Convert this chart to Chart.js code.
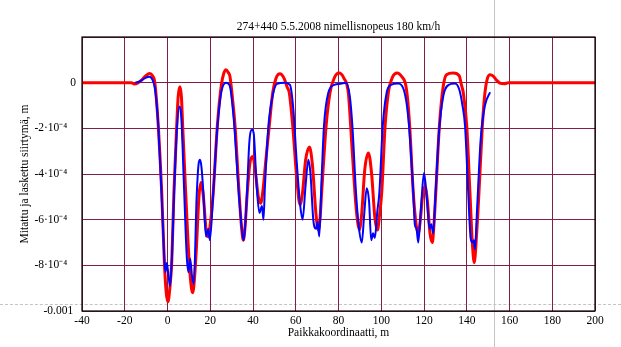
<!DOCTYPE html>
<html lang="fi">
<head>
  <meta charset="UTF-8" />
  <title>274+440 siirtymä</title>
  <script src="https://cdn.jsdelivr.net/npm/chart.js"></script>
  <style>
    body { margin: 0; background: #fff; }
    .wrap { position: relative; width: 621px; height: 347px; }
    .wrap canvas { position: absolute; left: 0; top: 0; z-index: 2; }
    .vline { position: absolute; left: 494px; top: 0; width: 1px; height: 347px; background: #c4c4c4; z-index: 1; }
    .hline { position: absolute; left: 0; top: 304px; width: 621px; border-top: 1px dashed #c4c4c4; z-index: 1; }
  </style>
</head>
<body>
<div class="wrap">
  <div class="vline"></div>
  <div class="hline"></div>
  <canvas id="siirtyma" width="621" height="347"></canvas>
</div>

<script>
// y-arvot yksikössä 1e-4 m
const laskettu = [
  [-40,0],[-17,0],[-15.5,-0.06],[-14,-0.02],[-12,0.12],[-10,0.32],[-8.3,0.4],[-7,0.3],[-6,0.05],
  [-5.3,-0.6],[-4.3,-1.9],[-2.7,-4.8],[-1.5,-7.8],[-0.6,-9.2],[0.2,-9.6],[1.0,-9.1],[2.0,-7.8],
  [3.0,-4.8],[4.3,-1.9],[5.0,-0.6],[5.8,-0.18],[6.5,-0.6],[7.1,-1.9],[8.5,-4.8],[10.1,-7.8],
  [11.2,-9.0],[11.8,-9.2],[12.6,-8.6],[13.6,-7.1],[14.7,-5.0],[15.7,-4.37],[16.8,-5.0],[18,-6.4],
  [19,-6.75],[20,-6.2],[21.4,-4.8],[23.3,-1.9],[25.2,-0.1],[26.3,0.4],[27.4,0.57],[28.4,0.45],
  [29.2,0.28],[30.3,-0.6],[31.6,-1.9],[33.5,-4.84],[34.6,-6.3],[35.5,-6.9],[36.3,-6.3],[37.3,-4.84],
  [38.6,-3.5],[39.9,-3.23],[41,-3.8],[42.5,-5.0],[43.6,-5.28],[44.8,-4.6],[46,-3.4],[47.6,-1.9],
  [49.2,-0.45],[50.8,0.2],[52.6,0.39],[54.5,0.2],[56,-0.2],[57,-0.45],[58.6,-1.9],[60.4,-4.1],
  [62,-5.35],[63.2,-4.8],[64.6,-3.4],[66.4,-2.82],[67.8,-3.6],[69.5,-5.8],[70.6,-6.45],[71.4,-5.9],
  [72.1,-4.84],[74.2,-1.9],[76,-0.45],[78,0.2],[80.2,0.42],[82.5,0.2],[84.6,-0.45],[85.7,-1.9],
  [87.7,-4.84],[88.8,-6.0],[89.7,-6.45],[90.8,-5.8],[92.3,-3.8],[94,-3.08],[95.5,-4.0],[97,-5.9],
  [98.2,-6.45],[99.2,-5.8],[100.2,-4.84],[101.8,-1.9],[103.3,-0.45],[105.3,0.25],[107.5,0.42],
  [109.7,0.25],[111.2,0],[112.2,-0.6],[113.3,-1.9],[115,-4.84],[116.3,-6.2],[117.3,-6.6],[118.3,-6.0],
  [119.4,-4.9],[120.5,-4.55],[121.6,-5.2],[122.8,-6.6],[123.9,-7.0],[124.6,-6.3],[125.5,-4.84],
  [127.2,-1.9],[129,-0.16],[130.5,0.35],[133.7,0.42],[136.5,0.3],[137.5,-0.1],[138.4,-0.45],
  [140,-1.9],[141.5,-4.84],[142.6,-7.0],[143.5,-7.88],[144.5,-6.8],[145.7,-4.84],[147.3,-1.9],
  [148.5,-0.45],[149.7,0.2],[150.9,0.35],[152.5,0.28],[154,0.1],[155.5,-0.02],[157.5,-0.05],
  [159.5,0],[200,0]
];

const mitattu = [
  [-15,0],[-13,0.05],[-10.5,0.2],[-8.4,0.26],[-7,0.12],[-6,-0.2],[-5.3,-0.7],[-4.3,-1.9],[-2.8,-4.8],
  [-1.6,-7.5],[-1.0,-8.3],[-0.3,-7.9],[0.4,-8.4],[1.2,-8.9],[2.1,-7.6],[3.1,-4.8],[4.3,-2.2],
  [5.5,-1.04],[6.5,-1.6],[7.7,-4.5],[9.0,-7.6],[9.8,-8.3],[10.6,-7.7],[11.5,-8.5],[12.3,-8.8],
  [13.6,-5.1],[14.5,-3.6],[15.2,-3.38],[15.9,-3.7],[16.8,-4.84],[18,-6.74],[19.1,-6.4],[19.8,-6.9],
  [21.4,-4.84],[23.3,-2.0],[25.2,-0.4],[27.4,0],[29,-0.1],[31,-1.6],[33.3,-4.8],[35,-6.6],[35.7,-6.9],
  [37,-5.2],[38.3,-2.6],[39.5,-2.06],[40.3,-2.2],[41.7,-4.5],[43,-5.7],[44.2,-5.4],[44.9,-6.0],
  [45.6,-4.5],[47.2,-1.9],[49.5,-0.45],[51.2,-0.05],[55,0],[57.3,-0.1],[58.9,-1.2],[60.4,-3.4],
  [62,-5.3],[63.2,-6.0],[64.6,-4.5],[65.9,-3.38],[66.9,-4.0],[68.2,-6.0],[69.5,-6.4],[70.2,-6.1],
  [71,-6.74],[72.1,-4.2],[73.2,-1.9],[75.2,-0.45],[78,-0.1],[81,-0.05],[83.5,0],[85.3,-0.6],
  [86.5,-1.9],[88.2,-4.84],[89.5,-6.3],[90.9,-7.0],[92,-5.8],[93.2,-4.62],[94.3,-5.2],[95.3,-6.9],
  [96.2,-6.6],[97,-6.8],[98.2,-5.6],[99.1,-4.84],[100.7,-1.9],[102.5,-0.45],[104.5,-0.1],[108,-0.04],
  [110.5,-0.3],[112,-1.0],[113,-1.9],[115,-4.84],[115.7,-6.2],[116.5,-6.4],[117.3,-7.0],[118.5,-5.6],
  [120,-3.96],[121.2,-4.9],[122.6,-6.4],[123.4,-6.2],[124.3,-6.6],[125.4,-4.84],[127,-2.2],[129,-0.6],
  [131.5,-0.1],[134.5,-0.04],[136.5,-0.3],[138,-1.0],[139.2,-1.9],[140.7,-4.84],[141.8,-6.8],
  [142.6,-7.0],[143.3,-6.9],[143.8,-7.3],[144.8,-5.6],[146.5,-2.5],[148.5,-1.0],[150.9,-0.42]
];

const yTickValues = [-10, -8, -6, -4, -2, 0, 2];
const yTickLabels = ['-0.001 ', '-8·10⁻⁴   ', '-6·10⁻⁴   ', '-4·10⁻⁴   ', '-2·10⁻⁴   ', '0', ''];

const serif = "'Liberation Serif', 'Times New Roman', serif";
const fontSize = 11.5;
const gridColor = '#80204a';

const frame = {
  id: 'frame',
  afterDatasetsDraw(chart) {
    const { ctx, chartArea: a } = chart;
    ctx.save();
    ctx.strokeStyle = '#000';
    ctx.lineWidth = 1.2;
    ctx.strokeRect(a.left, a.top, a.right - a.left, a.bottom - a.top);
    ctx.restore();
  }
};

new Chart(document.getElementById('siirtyma'), {
  type: 'line',
  data: {
    datasets: [
      {
        label: 'mitattu',
        data: mitattu.map(p => ({ x: p[0], y: p[1] })),
        borderColor: '#0000ff',
        borderWidth: 2,
        pointRadius: 0,
        cubicInterpolationMode: 'monotone',
        order: 0
      },
      {
        label: 'laskettu',
        data: laskettu.map(p => ({ x: p[0], y: p[1] })),
        borderColor: '#ff0000',
        borderWidth: 3,
        pointRadius: 0,
        cubicInterpolationMode: 'monotone',
        order: 1
      }
    ]
  },
  options: {
    responsive: false,
    animation: false,
    layout: { padding: { left: 0, right: 26, top: 0, bottom: 0 } },
    plugins: { legend: { display: false }, tooltip: { enabled: false } },
    scales: {
      x: {
        type: 'linear', min: -40, max: 200,
        ticks: { stepSize: 20, color: '#000', font: { family: serif, size: fontSize }, padding: 3 },
        grid: { color: gridColor, drawTicks: false },
        border: { display: false },
        title: { display: true, text: 'Paikkakoordinaatti, m', color: '#000',
                 font: { family: serif, size: fontSize }, padding: { top: 0, bottom: 7 } },
        afterFit(s) { s.height = 36; }
      },
      top: {
        type: 'linear', position: 'top', min: -40, max: 200,
        ticks: { display: false },
        grid: { display: false },
        border: { display: false },
        title: { display: true, text: '274+440 5.5.2008 nimellisnopeus 180 km/h', color: '#000',
                 font: { family: serif, size: fontSize }, padding: { top: 20, bottom: 0 } },
        afterFit(s) { s.height = 37; }
      },
      y: {
        min: -10, max: 2,
        afterBuildTicks(s) { s.ticks = yTickValues.map(v => ({ value: v })); },
        ticks: {
          color: '#000', font: { family: serif, size: fontSize }, padding: 6,
          callback: v => yTickLabels[yTickValues.indexOf(Math.round(v))]
        },
        grid: { color: gridColor, drawTicks: false },
        border: { display: false },
        title: { display: true, text: 'Mitattu ja laskettu siirtymä, m', color: '#000',
                 font: { family: serif, size: fontSize }, padding: { top: 18, bottom: 0 } },
        afterFit(s) { s.width = 82; }
      }
    }
  },
  plugins: [frame]
});
</script>
</body>
</html>
